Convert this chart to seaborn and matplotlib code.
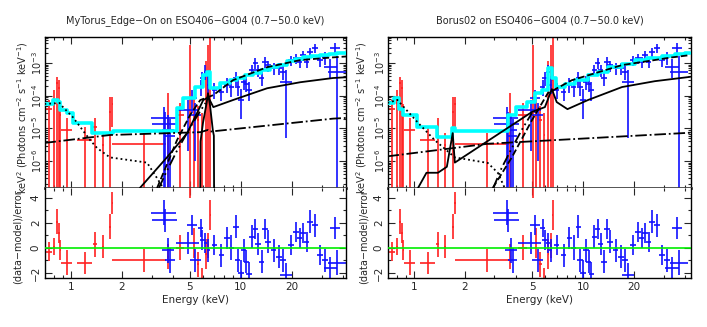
import numpy as np
import pandas as pd
import seaborn as sns
import matplotlib.pyplot as plt
from matplotlib.ticker import FixedLocator, FixedFormatter, NullFormatter, LogLocator, MultipleLocator

# ---- spectra (same data in both fits) ----
# XMM points (red): energy keV, half bin width, flux, upper/lower error ends
red_e = [0.74, 0.80, 0.83, 0.85, 0.87, 0.95, 1.21, 1.39, 1.54, 1.70, 1.76, 2.70,
         3.73, 4.40, 5.04, 5.30, 5.60, 5.90, 6.25, 6.45, 6.63]
red_de = [0.035, 0.01, 0.01, 0.01, 0.01, 0.07, 0.12, 0.03, 0.02, 0.02, 0.02, 0.95,
          0.03, 0.25, 0.03, 0.05, 0.10, 0.05, 0.05, 0.05, 0.05]
red_f = [4.0e-5, 6.0e-5, 2.4e-4, 1.7e-4, 2.6e-5, 8.9e-6, 4.4e-6, 1.07e-5, 3.1e-6, 3.2e-5, 5.5e-5, 3.4e-6,
         1.2e-5, 2.6e-5, 9.1e-5, 3.6e-5, 1.8e-5, 6.3e-6, 5.3e-4, 1.85e-4, 3.0e-4]
red_hi = [7.5e-5, 1.5e-4, 3.7e-4, 3.0e-4, 5.5e-5, 2.1e-5, 1.1e-5, 2.1e-5, 7.2e-6, 9.3e-5, 9.1e-5, 7.2e-6,
          1.2e-4, 6.0e-5, 3.5e-3, 8.0e-5, 5.0e-5, 3.0e-5, 1.2e-3, 3.5e-3, 5.8e-3]
red_lo = [1e-8, 1e-8, 1e-8, 1e-8, 1e-8, 1e-8, 1e-8, 1e-8, 1e-8, 1e-8, 1.1e-5, 1e-8,
          1e-8, 1e-8, 1e-8, 1e-8, 1e-8, 1e-8, 1e-8, 1e-8, 1e-8]
red_res = [-0.3, 0.1, 2.1, 1.2, -0.2, -1.2, -1.2, 0.3, 0.1, 1.7, 3.6, -1.0,
           -0.7, 0.0, 5.5, 0.4, -1.3, -2.6, -0.5, 0.2, 2.6]
red_res_err = [0.75, 0.7, 1.0, 0.8, 0.8, 1.0, 0.9, 1.0, 0.9, 1.0, 0.9, 0.9,
               1.0, 1.0, 1.5, 1.2, 1.0, 1.0, 1.2, 1.0, 1.2]

# NuSTAR points (blue)
blue_e = [3.55, 3.60, 3.75, 3.85, 4.90, 5.20, 5.40, 5.80, 5.95, 6.20, 6.45, 7.00, 7.70, 8.30,
          8.80, 9.40, 9.60, 10.0, 10.4, 10.8, 11.2, 11.7, 12.2, 12.7, 13.3, 13.9, 14.5, 15.6,
          16.8, 17.7, 18.5, 19.8, 21.2, 22.2, 23.3, 24.4, 25.6, 27.5, 29.4, 31.5, 33.7, 36.1, 37.0]
blue_de = [0.60, 0.60, 0.30, 0.25, 0.75, 0.35, 0.40, 0.20, 0.20, 0.15, 0.15, 0.25, 0.25, 0.30,
           0.30, 0.35, 0.35, 0.40, 0.40, 0.40, 0.40, 0.45, 0.45, 0.50, 0.50, 0.55, 0.55, 0.60,
           0.65, 0.70, 1.50, 0.75, 0.80, 0.85, 0.90, 0.95, 1.0, 1.1, 1.2, 1.3, 3.0, 2.5, 4.5]
blue_f = [2.1e-5, 1.4e-5, 9.0e-6, 6.0e-6, 3.6e-5, 8.5e-5, 2.6e-5, 1.85e-4, 3.5e-4, 5.3e-4, 2.2e-4, 1.5e-4,
          1.3e-4, 2.1e-4, 1.8e-4, 3.5e-4, 1.85e-4, 7.4e-5, 2.6e-4, 2.3e-4, 1.5e-4, 6.1e-4, 1.0e-3,
          6.0e-4, 3.6e-4, 1.07e-3, 8.7e-4, 7.0e-4, 7.0e-4, 5.5e-4, 2.6e-4, 1.24e-3, 1.42e-3, 1.1e-3,
          1.76e-3, 1.07e-3, 2.2e-3, 2.9e-3, 1.24e-3, 1.5e-3, 7.5e-4, 2.9e-3, 5.3e-4]
blue_hi = [4.5e-5, 3.2e-5, 2.6e-5, 2.0e-5, 7.4e-5, 1.5e-4, 6.0e-5, 3.0e-4, 5.5e-4, 9.0e-4, 4.0e-4, 2.5e-4,
           2.2e-4, 3.5e-4, 3.2e-4, 5.5e-4, 3.0e-4, 1.6e-4, 4.0e-4, 3.7e-4, 2.6e-4, 8.7e-4, 1.4e-3,
           8.7e-4, 5.8e-4, 1.5e-3, 1.2e-3, 1.0e-3, 1.0e-3, 8.5e-4, 6.0e-4, 1.7e-3, 1.9e-3, 1.5e-3,
           2.4e-3, 1.5e-3, 3.0e-3, 3.9e-3, 1.8e-3, 2.2e-3, 1.3e-3, 4.2e-3, 1.6e-3]
blue_lo = [1e-8, 1e-8, 1e-8, 1e-8, 2e-6, 3e-5, 1e-6, 1e-4, 2e-4, 3e-4, 1.1e-4, 8e-5,
           7e-5, 1.2e-4, 9e-5, 2e-4, 1e-4, 2e-5, 1.5e-4, 1.3e-4, 7e-5, 4e-4, 6.5e-4,
           3.8e-4, 2e-4, 7e-4, 5.5e-4, 4.3e-4, 4.3e-4, 3e-4, 5e-6, 8e-4, 9.5e-4, 7e-4,
           1.2e-3, 7e-4, 1.5e-3, 2e-3, 7.5e-4, 9e-4, 3.5e-4, 1.8e-3, 1e-8]
blue_res = [2.8, 2.2, -0.2, -1.0, 0.4, 1.8, -1.0, 1.6, 0.6, 0.4, -0.2, 0.2, -0.6, 0.8,
            0.0, 1.7, -1.0, -2.0, -0.2, -1.1, -2.1, 0.9, 1.5, 0.3, -1.1, 1.5, 0.5, -0.2,
            -0.7, -1.0, -2.2, 0.2, 1.3, 0.8, 1.2, 0.5, 2.1, 1.8, -0.6, -1.0, -1.6, 1.6, -1.2]
blue_res_err = [1.0, 0.9, 1.0, 1.0, 0.9, 0.8, 0.9, 0.7, 0.8, 0.8, 0.9, 0.8, 0.9, 0.9,
                1.0, 0.9, 0.9, 1.0, 0.9, 0.9, 1.0, 0.9, 0.8, 0.9, 0.9, 0.8, 0.9, 0.9,
                0.9, 0.9, 1.0, 0.8, 0.8, 0.8, 0.8, 0.8, 0.9, 0.9, 0.8, 0.9, 0.9, 0.9, 1.0]

# ---- MyTorus edge-on model ----
myt_tot_e = [0.70, 0.79, 0.84, 0.87, 0.95, 1.03, 1.33, 1.77, 4.22, 4.57, 5.40, 6.02, 6.35, 6.63, 7.57,
             8.6, 9.5, 10.6, 11.8, 13.2, 14.9, 16.5, 18.7, 21.0, 23.3, 26.0, 29.4, 33.0, 36.7, 42.0]
myt_tot_f = [5.6e-5, 7.5e-5, 6.4e-5, 3.6e-5, 3.0e-5, 1.45e-5, 7.5e-6, 8.3e-6, 4.2e-5, 8.5e-5, 1.85e-4,
             4.3e-4, 5.4e-4, 1.7e-4, 2.4e-4, 3.0e-4, 3.6e-4, 4.3e-4, 5.0e-4, 6.0e-4, 7.5e-4, 9.0e-4,
             1.15e-3, 1.35e-3, 1.55e-3, 1.65e-3, 1.8e-3, 1.95e-3, 2.0e-3, 2.0e-3]
myt_soft_e = [0.70, 0.86, 0.90, 1.03, 1.30, 1.43, 1.70, 2.81, 3.22, 3.5]
myt_soft_f = [5.6e-5, 6.0e-5, 4.5e-5, 2.2e-5, 4.4e-6, 2.5e-6, 1.3e-6, 9e-7, 3.0e-7, 1.5e-7]
myt_scat_e = [0.70, 1.70, 5.8, 6.4, 6.6, 35.0, 42.0]
myt_scat_f = [3.6e-6, 6.3e-6, 7.7e-6, 9e-6, 8e-6, 2.0e-5, 2.1e-5]
myt_refl_e = [2.55, 3.68, 4.84, 5.54, 6.02, 6.45, 6.9, 9.0, 14.3, 22.4, 34.9, 42.0]
myt_refl_f = [1.5e-7, 1.3e-6, 7.2e-6, 3e-5, 7.4e-5, 9e-5, 4.5e-5, 7.4e-5, 1.7e-4, 2.6e-4, 3.5e-4, 3.7e-4]
myt_trans_e = [3.22, 4.22, 5.04, 5.78, 6.9, 9.0, 14.3, 22.4, 34.9, 42.0]
myt_trans_f = [1.5e-7, 4.4e-6, 2.6e-5, 7.4e-5, 1.05e-4, 3e-4, 7.5e-4, 1.24e-3, 1.5e-3, 1.6e-3]
myt_line_e = [5.78, 5.80, 6.0, 6.3, 6.42, 6.6, 6.85, 6.95, 6.97]
myt_line_f = [1.5e-7, 4e-6, 1.5e-5, 6e-5, 1.2e-4, 5e-5, 9e-6, 6e-6, 1.5e-7]
myt_sline_e = [3.3, 3.6, 4.2, 5.0, 5.8, 6.2]
myt_sline_f = [1.5e-7, 4e-7, 2e-6, 1e-5, 3.5e-5, 6e-5]

# ---- Borus02 model ----
bor_tot_e = [0.70, 0.77, 0.82, 0.86, 1.04, 1.37, 1.68, 1.75, 3.60, 4.00, 4.70, 5.20, 5.70, 6.20,
             6.60, 6.90, 7.8, 8.95, 10.7, 12.3, 14.0, 17.0, 20.3, 24.0, 29.3, 35.0, 40.0, 43.0]
bor_tot_f = [6.0e-5, 8.5e-5, 4.0e-5, 2.6e-5, 1.1e-5, 5.4e-6, 1.0e-5, 8.3e-6, 2.6e-5, 4.5e-5, 6.4e-5,
             1.2e-4, 1.5e-4, 7.0e-4, 3.5e-4, 1.85e-4, 2.3e-4, 3.0e-4, 4.3e-4, 5.5e-4, 7.5e-4, 9.5e-4,
             1.24e-3, 1.45e-3, 1.6e-3, 1.9e-3, 2.0e-3, 2.0e-3]
bor_soft_e = [0.70, 0.80, 1.06, 1.33, 1.75, 2.74, 3.14, 3.45]
bor_soft_f = [6.0e-5, 7.5e-5, 1.5e-5, 4.4e-6, 1.3e-6, 8.8e-7, 4.4e-7, 1.5e-7]
bor_scat_e = [0.70, 2.74, 43.0]
bor_scat_f = [1.4e-6, 3.4e-6, 7.4e-6]
bor_refl_e = [1.06, 1.19, 1.39, 1.57, 1.70, 1.75, 5.0, 5.96, 6.55, 7.0, 8.1, 10.7, 17.0, 26.6, 43.0]
bor_refl_f = [1.5e-7, 4.4e-7, 4.4e-7, 6.7e-7, 7.2e-6, 9e-7, 3.2e-5, 4.5e-5, 1.6e-4, 6.4e-5, 3.9e-5,
              7.4e-5, 1.85e-4, 2.8e-4, 3.8e-4]
bor_trans_e = [2.93, 3.8, 5.0, 6.2, 8.6, 17.0, 33.6, 43.0]
bor_trans_f = [1.5e-7, 1.3e-6, 1.8e-5, 1.2e-4, 3e-4, 8.7e-4, 1.5e-3, 1.76e-3]
bor_sline_e = [2.95, 3.3, 3.8, 4.4, 5.0]
bor_sline_f = [1.5e-7, 6e-7, 2.5e-6, 1e-5, 3e-5]

x_major = [1, 2, 5, 10, 20]
x_minor = [0.7, 0.8, 0.9, 3, 4, 6, 7, 8, 9, 30, 40]

sns.set_style('ticks')
plt.rcParams['font.family'] = ['DejaVu Sans']
plt.rcParams['mathtext.default'] = 'regular'


def frame(ax):
    ax.tick_params(which='both', direction='in', top=True, right=True, width=0.8, labelsize=7.5, pad=3)
    ax.tick_params(which='major', length=5)
    ax.tick_params(which='minor', length=2.5)
    for s in ax.spines.values():
        s.set_color('black')
        s.set_linewidth(1.0)
    ax.xaxis.set_major_locator(FixedLocator(x_major))
    ax.xaxis.set_major_formatter(FixedFormatter([str(v) for v in x_major]))
    ax.xaxis.set_minor_locator(FixedLocator(x_minor))
    ax.xaxis.set_minor_formatter(NullFormatter())


def points(ax, e, de, f, hi, lo, color):
    f = np.array(f)
    ax.errorbar(e, f, xerr=de, yerr=[f - np.array(lo), np.array(hi) - f], fmt='none',
                ecolor=color, elinewidth=1.2, capsize=0, zorder=2)


def panel(ax, axr, title, xmax, tot_e, tot_f, comps, ylab_x, rlab_x):
    ax.set_xscale('log')
    ax.set_yscale('log')
    points(ax, red_e, red_de, red_f, red_hi, red_lo, '#ff2020')
    points(ax, blue_e, blue_de, blue_f, blue_hi, blue_lo, '#1010ff')
    tot = pd.DataFrame({'E': tot_e, 'F': tot_f})
    sns.lineplot(data=tot, x='E', y='F', ax=ax, color='#00ffff', lw=2.6,
                 drawstyle='steps-post', estimator=None, sort=False, zorder=4)
    for e, f, ls in comps:
        sns.lineplot(x=e, y=f, ax=ax, color='black', lw=1.3, linestyle=ls,
                     estimator=None, sort=False, zorder=5)
    ax.set_xlim(0.705, xmax)
    ax.set_ylim(1.5e-7, 6.3e-3)
    frame(ax)
    ax.yaxis.set_major_locator(LogLocator(base=10))
    ax.yaxis.set_minor_locator(LogLocator(base=10, subs=np.arange(2, 10)))
    ax.yaxis.set_minor_formatter(NullFormatter())
    ax.tick_params(axis='y', labelrotation=90, labelsize=7, pad=1)
    for t in ax.get_yticklabels():
        t.set_va('center')
    ax.tick_params(axis='x', labelbottom=False)
    ax.set_xlabel('')
    ax.set_ylabel('keV$^2$ (Photons cm$^{-2}$ s$^{-1}$ keV$^{-1}$)', fontsize=7)
    ax.yaxis.set_label_coords(ylab_x, 0.47)
    ax.set_title(title, fontsize=7, pad=10)
    ax.spines['bottom'].set_linewidth(2.0)
    ax.spines['bottom'].set_color('#444444')

    axr.set_xscale('log')
    axr.errorbar(red_e, red_res, xerr=red_de, yerr=red_res_err, fmt='none',
                 ecolor='#ff2020', elinewidth=1.2, capsize=0, zorder=2)
    axr.errorbar(blue_e, blue_res, xerr=blue_de, yerr=blue_res_err, fmt='none',
                 ecolor='#1010ff', elinewidth=1.2, capsize=0, zorder=2)
    axr.axhline(0, color='#00ee00', lw=1.2, zorder=3)
    axr.set_xlim(0.705, xmax)
    axr.set_ylim(-2.4, 4.8)
    frame(axr)
    axr.yaxis.set_major_locator(FixedLocator([-2, 0, 2, 4]))
    axr.yaxis.set_minor_locator(MultipleLocator(1))
    axr.tick_params(axis='y', labelrotation=90)
    axr.set_yticklabels(['\u22122', '0', '2', '4'])
    for t in axr.get_yticklabels():
        t.set_va('center')
    axr.set_xlabel('Energy (keV)', fontsize=7.5, labelpad=2)
    axr.set_ylabel('(data\u2212model)/error', fontsize=7)
    axr.yaxis.set_label_coords(rlab_x, 0.46)
    axr.spines['top'].set_visible(False)


fig = plt.figure(figsize=(7.07, 3.27), dpi=100)
ax1 = fig.add_axes([0.0636, 0.425, 0.4257, 0.4618])
ax1r = fig.add_axes([0.0636, 0.150, 0.4257, 0.2752])
ax2 = fig.add_axes([0.5488, 0.425, 0.4286, 0.4618])
ax2r = fig.add_axes([0.5488, 0.150, 0.4286, 0.2752])

myt_comps = [(myt_soft_e, myt_soft_f, ':'), (myt_scat_e, myt_scat_f, '-.'),
             (myt_refl_e, myt_refl_f, '-'), (myt_trans_e, myt_trans_f, '--'),
             (myt_line_e, myt_line_f, '-'), (myt_sline_e, myt_sline_f, (0, (6, 2, 1, 2, 1, 2)))]
bor_comps = [(bor_soft_e, bor_soft_f, ':'), (bor_scat_e, bor_scat_f, '-.'),
             (bor_refl_e, bor_refl_f, '-'), (bor_trans_e, bor_trans_f, '--'),
             (bor_sline_e, bor_sline_f, (0, (6, 2, 1, 2, 1, 2)))]

panel(ax1, ax1r, 'MyTorus_Edge\u2212On on ESO406\u2212G004 (0.7\u221250.0 keV)', 41.6,
      myt_tot_e, myt_tot_f, myt_comps, -0.05, -0.075)
panel(ax2, ax2r, 'Borus02 on ESO406\u2212G004 (0.7\u221250.0 keV)', 43.5,
      bor_tot_e, bor_tot_f, bor_comps, -0.062, -0.064)

fig.savefig('out.png', dpi=100)
